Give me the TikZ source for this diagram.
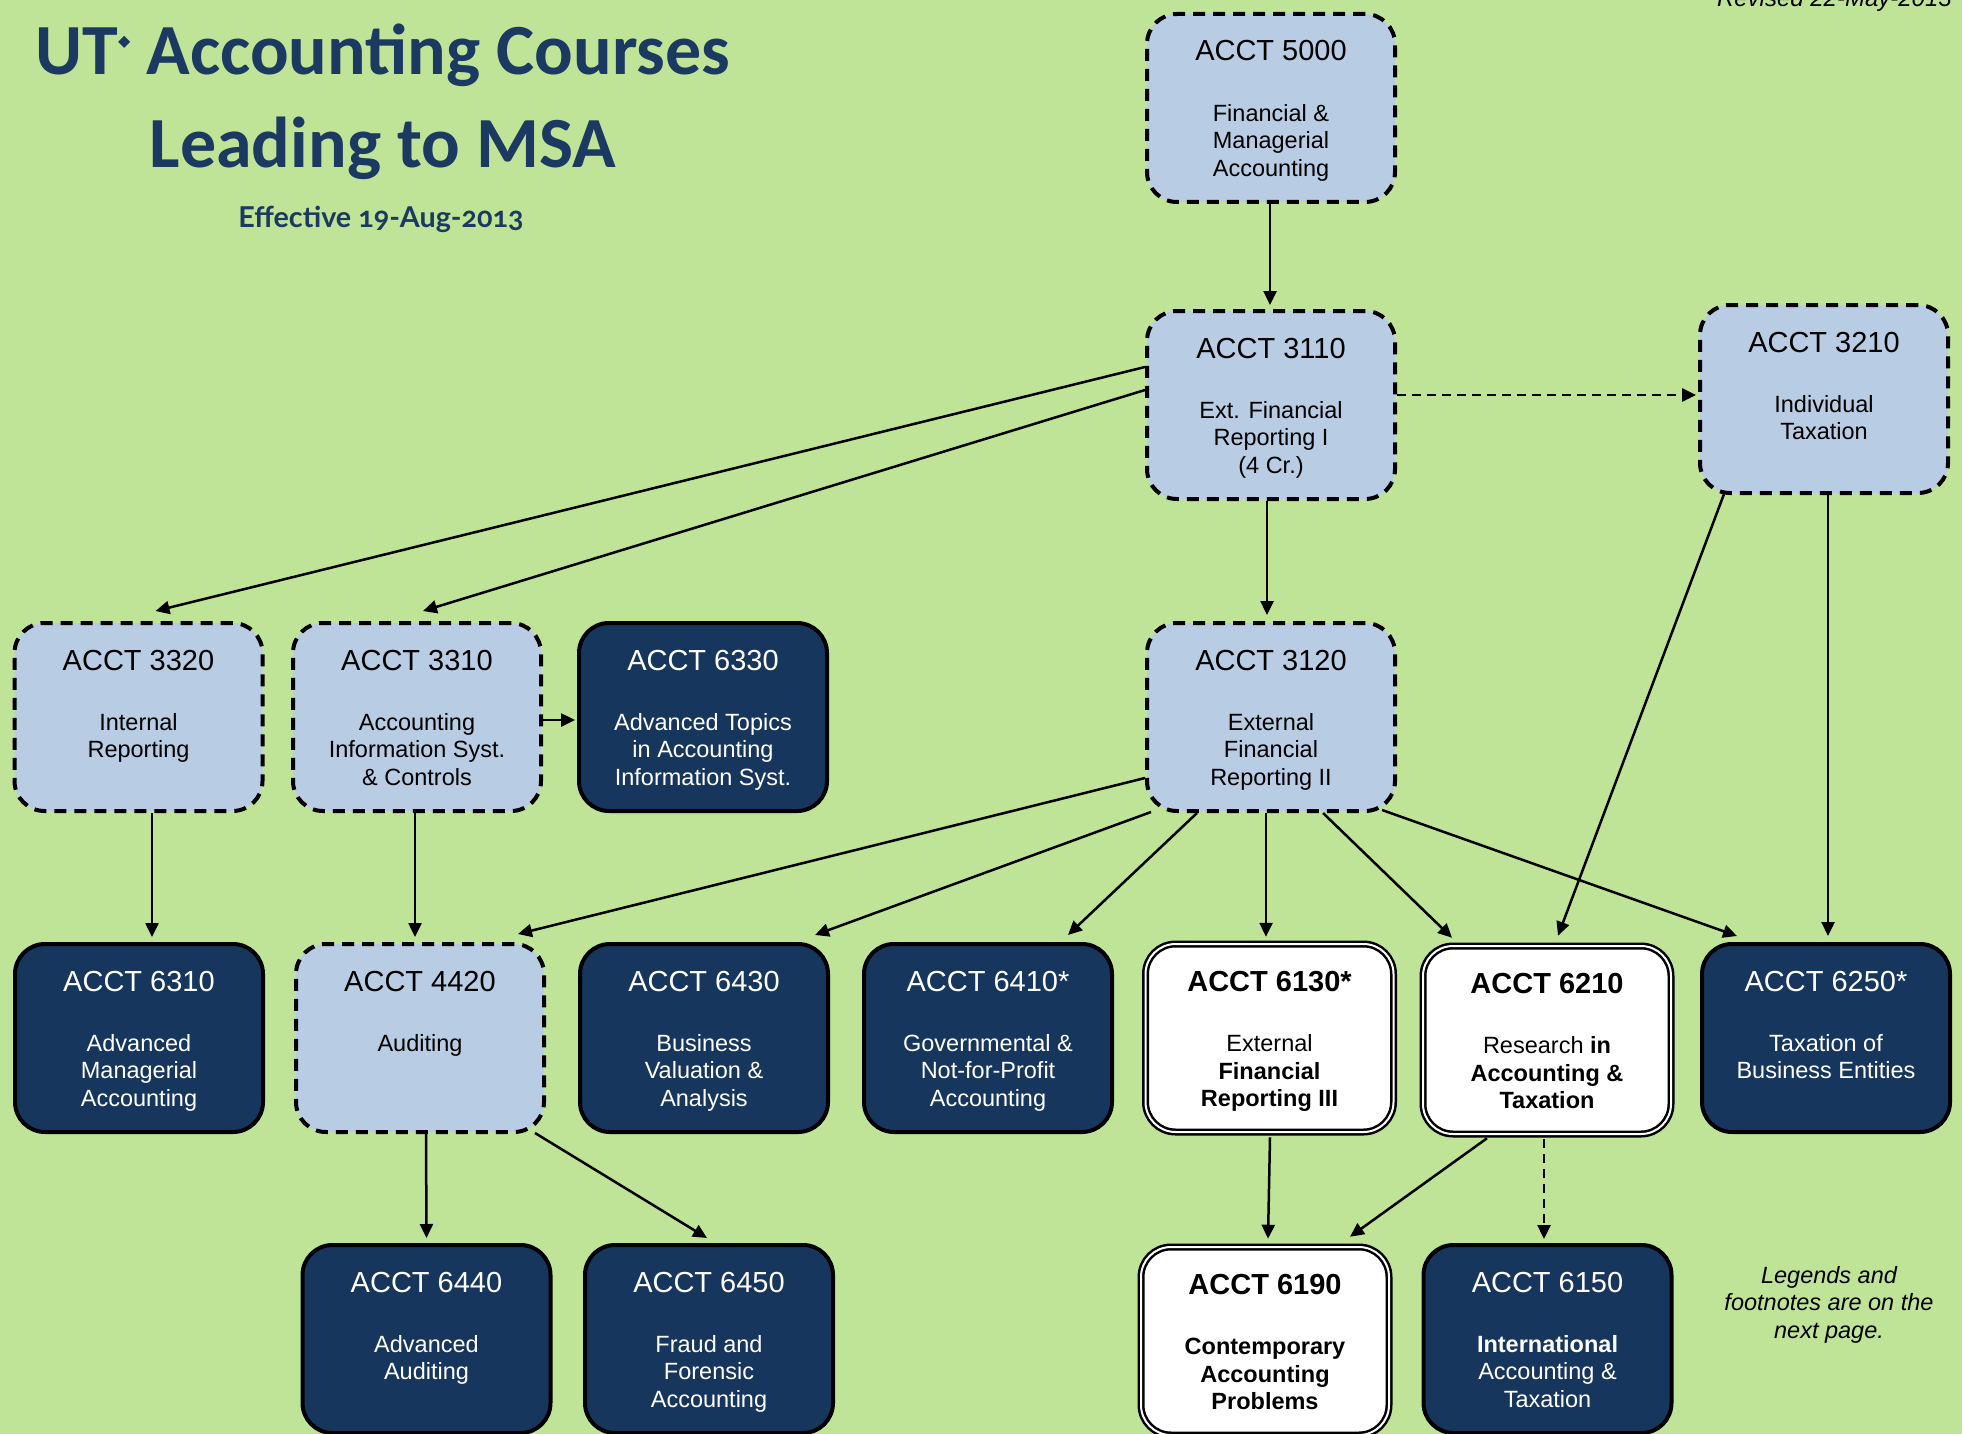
\documentclass[tikz,border=0pt]{standalone}
\usepackage{fontspec}
\setmainfont{Liberation Sans}
\newfontfamily\titlefont[Numbers=OldStyle]{Carlito}
\newfontfamily\subfont[Numbers=OldStyle]{Lato}
\newfontfamily\symfont{DejaVu Sans}
\usetikzlibrary{arrows.meta,calc}
\definecolor{bggreen}{RGB}{192,228,151}
\definecolor{lightblue}{RGB}{184,204,228}
\definecolor{navy}{RGB}{23,54,93}
\definecolor{titlenavy}{RGB}{27,57,97}
\tikzset{
  boxbase/.style={rounded corners=30pt, minimum width=248pt, minimum height=188pt, inner sep=0pt},
  lightbox/.style={boxbase, draw=black, line width=4pt, dash pattern=on 12pt off 8pt, fill=lightblue},
  darkbox/.style={boxbase, draw=black, line width=4pt, fill=navy},
  whitebox/.style={boxbase, draw=black, double=white, double distance=2pt, line width=2.5pt, fill=white},
  ctitle/.style={font=\fontsize{29}{33}\selectfont, inner sep=0pt},
  cbody/.style={font=\fontsize{23.5}{27.5}\selectfont, align=center, inner sep=0pt},
  arr/.style={draw=black, line width=2.5pt, -{Triangle[length=14pt,width=13pt]}},
  darr/.style={arr, dash pattern=on 9pt off 6pt},
  bigtitle/.style={font=\titlefont\bfseries\fontsize{72}{80}\selectfont, text=titlenavy, inner sep=0pt},
  subtitle/.style={font=\subfont\bfseries\fontsize{28.7}{34}\selectfont, text=titlenavy, inner sep=0pt},
  note/.style={font=\itshape\fontsize{23.5}{27.5}\selectfont, align=center, inner sep=0pt}
}
% first body line baseline = top of node + 20pt (strut)
\newcommand\course[7]{%
  \node[#4] (#1) at (#2,#3) {};
  \node[ctitle, text=#5, anchor=base] (#1t) at ($(#1.north)+(0,49)$) {#6};
  \node[cbody, text=#5, anchor=north] (#1b) at ($(#1.north)+(0,89)$) {\rule{0pt}{20pt}#7};
}
\begin{document}
\begin{tikzpicture}[x=1pt,y=-1pt]
\useasboundingbox (0,0) rectangle (1962,1434);
\clip (0,0) rectangle (1962,1434);
\fill[bggreen] (0,0) rectangle (1962,1434);

% titles
\node[bigtitle, anchor=base] (title1) at (383,75) {UT\raisebox{28pt}{\symfont\fontsize{16}{16}\selectfont ◆} Accounting Courses};
\node[bigtitle, anchor=base] (title2) at (383,168) {Leading to MSA};
\node[subtitle, anchor=base] (title3) at (381,227) {Effective 19-Aug-2013};
\node[font=\itshape\fontsize{24}{28}\selectfont, anchor=base east, inner sep=0pt] (revised) at (1952,7) {Revised 22-May-2013};
\node[note, anchor=north] (legend) at (1829,1263) {\rule{0pt}{20pt}Legends and\\footnotes are on the\\next page.};

% courses
\course{n5000}{1271}{108}{lightbox}{black}{ACCT 5000}{Financial \&\\Managerial\\Accounting}
\course{n3110}{1271}{405}{lightbox}{black}{ACCT 3110}{Ext. Financial\\Reporting I\\(4 Cr.)}
\course{n3210}{1824}{399}{lightbox}{black}{ACCT 3210}{Individual\\Taxation}
\course{n3320}{138.5}{717}{lightbox}{black}{ACCT 3320}{Internal\\Reporting}
\course{n3310}{417}{717}{lightbox}{black}{ACCT 3310}{Accounting\\Information Syst.\\\& Controls}
\course{n6330}{703}{717}{darkbox}{white}{ACCT 6330}{Advanced Topics\\in Accounting\\Information Syst.}
\course{n3120}{1271}{717}{lightbox}{black}{ACCT 3120}{External\\Financial\\Reporting II}
\course{n6310}{139}{1038}{darkbox}{white}{ACCT 6310}{Advanced\\Managerial\\Accounting}
\course{n4420}{420}{1038}{lightbox}{black}{ACCT 4420}{Auditing}
\course{n6430}{704}{1038}{darkbox}{white}{ACCT 6430}{Business\\Valuation \&\\Analysis}
\course{n6410}{988}{1038}{darkbox}{white}{ACCT 6410*}{Governmental \&\\Not-for-Profit\\Accounting}
\course{n6130}{1269.5}{1038}{whitebox}{black}{\textbf{ACCT 6130*}}{External\\\textbf{Financial}\\\textbf{Reporting III}}
\course{n6210}{1547}{1040}{whitebox}{black}{\textbf{ACCT 6210}}{Research \textbf{in}\\\textbf{Accounting \&}\\\textbf{Taxation}}
\course{n6250}{1826}{1038}{darkbox}{white}{ACCT 6250*}{Taxation of\\Business Entities}
\course{n6440}{426.5}{1339}{darkbox}{white}{ACCT 6440}{Advanced\\Auditing}
\course{n6450}{709}{1339}{darkbox}{white}{ACCT 6450}{Fraud and\\Forensic\\Accounting}
\course{n6190}{1265}{1341}{whitebox}{black}{\textbf{ACCT 6190}}{\textbf{Contemporary}\\\textbf{Accounting}\\\textbf{Problems}}
\course{n6150}{1547.5}{1339}{darkbox}{white}{ACCT 6150}{\textbf{International}\\Accounting \&\\Taxation}

% connectors
\draw[arr] ($(n5000.south)+(-1,0)$) -- ($(n3110.north)+(-1,-4)$);
\draw[arr] ($(n3110.west)+(0,-38)$) -- ($(n3320.north)+(17,-10)$);
\draw[arr] ($(n3110.west)+(0,-15)$) -- ($(n3310.north)+(6,-10)$);
\draw[darr] ($(n3110.east)+(0,-10)$) -- ($(n3210.west)+(-2,-4)$);
\draw[arr] ($(n3110.south)+(-4,0)$) -- ($(n3120.north)+(-4,-6)$);
\draw[arr] ($(n3310.east)+(0,3)$) -- ($(n6330.west)+(-2,3)$);
\draw[arr] ($(n3320.south)+(13.5,0)$) -- ($(n6310.north)+(13,-5)$);
\draw[arr] ($(n3310.south)+(-2,0)$) -- ($(n4420.north)+(-5,-5)$);
\draw[arr] ($(n3120.west)+(0,61)$) -- ($(n4420.north)+(98,-8)$);
\draw[arr] ($(n3120.south west)+(6,-1)$) -- ($(n6430.north)+(111,-7)$);
\draw[arr] ($(n3120.south)+(-74,0)$) -- ($(n6410.north)+(80,-7)$);
\draw[arr] ($(n3120.south)+(-5,0)$) -- ($(n6130.north)+(-3.5,-6)$);
\draw[arr] ($(n3120.south)+(52,0)$) -- ($(n6210.north)+(-95,-7)$);
\draw[arr] ($(n3120.south east)+(-15,-3)$) -- ($(n6250.north)+(-89,-6)$);
\draw[arr] ($(n3210.south)+(-100,-1)$) -- ($(n6210.north)+(11,-9)$);
\draw[arr] ($(n3210.south)+(4,0)$) -- ($(n6250.north)+(2,-6)$);
\draw[arr] ($(n6130.south)+(0.5,4)$) -- ($(n6190.north)+(3,-7)$);
\draw[arr] ($(n6210.south)+(-60,3)$) -- ($(n6190.north)+(85,-9)$);
\draw[darr] ($(n6210.south)+(-3,4)$) -- ($(n6150.north)+(-3.5,-4)$);
\draw[arr] ($(n4420.south)+(6,0)$) -- ($(n6440.north)+(0,-5)$);
\draw[arr] ($(n4420.south east)+(-11,-1)$) -- ($(n6450.north)+(-2,-5)$);
\end{tikzpicture}
\end{document}
